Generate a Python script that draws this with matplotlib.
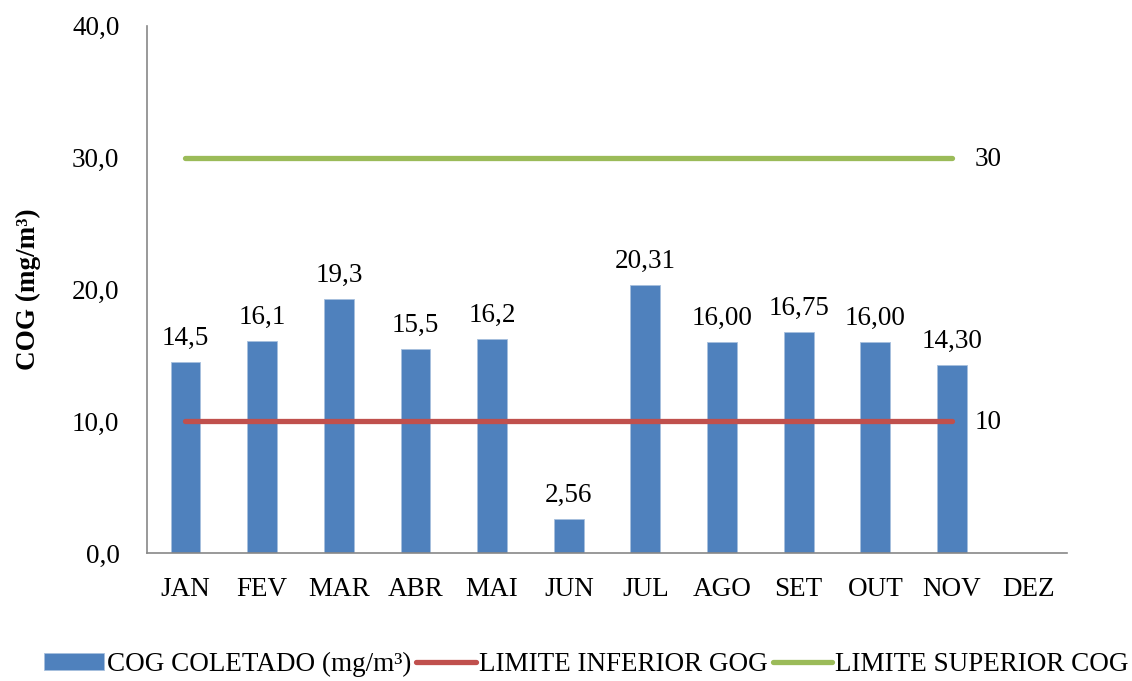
import matplotlib.pyplot as plt

meses = ['JAN', 'FEV', 'MAR', 'ABR', 'MAI', 'JUN', 'JUL', 'AGO', 'SET', 'OUT', 'NOV', 'DEZ']
cog = [14.5, 16.1, 19.3, 15.5, 16.2, 2.56, 20.31, 16.00, 16.75, 16.00, 14.30]
rotulos = ['14,5', '16,1', '19,3', '15,5', '16,2', '2,56', '20,31', '16,00', '16,75', '16,00', '14,30']
lim_inf = [10] * 11
lim_sup = [30] * 11
yticks = [0, 10, 20, 30, 40]
ytick_labels = ['0,0', '10,0', '20,0', '30,0', '40,0']

plt.rcParams['font.family'] = ['Liberation Serif', 'DejaVu Serif']
fs = 19.5

fig = plt.figure(figsize=(11.32, 6.81), dpi=100)
ax = fig.add_axes([0.130, 0.188, 0.8126, 0.774])

x = list(range(len(cog)))
barras = ax.bar(x, cog, width=0.39, color='#4F81BD', edgecolor='#A7C0DE', linewidth=0.6,
                label='COG COLETADO (mg/m³)', zorder=2)
l_inf, = ax.plot(x, lim_inf, color='#C0504D', lw=3.8, solid_capstyle='round',
                 label='LIMITE INFERIOR GOG', zorder=3)
l_sup, = ax.plot(x, lim_sup, color='#9BBB59', lw=3.8, solid_capstyle='round',
                 label='LIMITE SUPERIOR COG', zorder=3)

for xi, v, t in zip(x, cog, rotulos):
    ax.annotate(t, (xi, v), xytext=(0, 8), textcoords='offset points',
                ha='center', va='bottom', fontsize=fs)

ax.annotate('10', (x[-1], lim_inf[-1]), xytext=(16, -1), textcoords='offset points',
            ha='left', va='center', fontsize=fs)
ax.annotate('30', (x[-1], lim_sup[-1]), xytext=(16, -1), textcoords='offset points',
            ha='left', va='center', fontsize=fs)

ax.set_xlim(-0.5, 11.5)
ax.set_ylim(0, 40)
ax.set_xticks(range(len(meses)))
ax.set_xticklabels(meses, fontsize=fs)
ax.set_yticks(yticks)
ax.set_yticklabels(ytick_labels, fontsize=fs)
ax.tick_params(axis='x', length=0, pad=17)
ax.tick_params(axis='y', length=0, pad=20)
ax.set_ylabel('COG (mg/m³)', fontsize=fs, fontweight='bold', labelpad=22)

for s in ['top', 'right']:
    ax.spines[s].set_visible(False)
for s in ['left', 'bottom']:
    ax.spines[s].set_color('#888888')
    ax.spines[s].set_linewidth(1.2)

fig.legend([barras, l_inf, l_sup], [barras.get_label(), l_inf.get_label(), l_sup.get_label()],
           loc='lower center', bbox_to_anchor=(0.518, -0.03), ncol=3, frameon=False,
           fontsize=fs, handlelength=2.2, handleheight=0.55, handletextpad=0.1,
           columnspacing=0.2)

fig.savefig('out.png', dpi=100)
